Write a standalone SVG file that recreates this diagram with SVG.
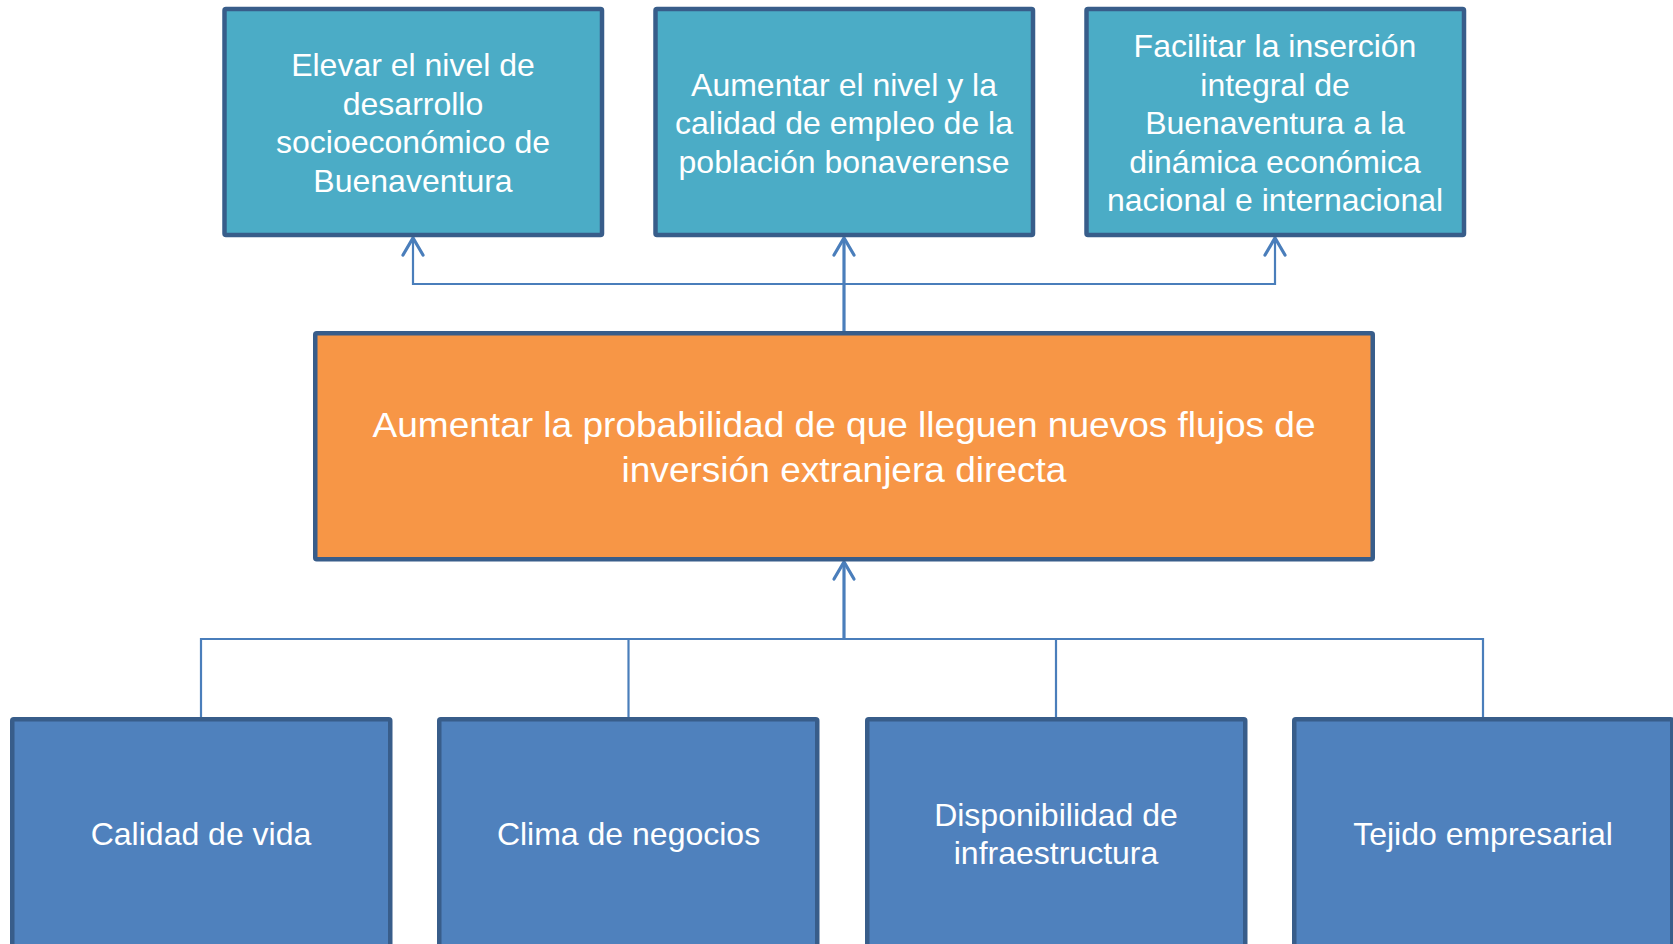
<svg xmlns="http://www.w3.org/2000/svg" width="1673" height="944" viewBox="0 0 1673 944">
<style>
.box{stroke:#385D8A;stroke-width:4.5}
.teal{fill:#4BACC6}
.orange{fill:#F79646}
.blue{fill:#4F81BD}
.t{font-family:"Liberation Sans",Arial,sans-serif;fill:#FFFFFF;text-anchor:middle;font-size:32px}
.tc{font-family:"Liberation Sans",Arial,sans-serif;fill:#FFFFFF;text-anchor:middle;font-size:35px}
.ln{stroke:#4A7EBB;fill:none;stroke-width:2.2}
.lnb{stroke:#4A7EBB;fill:none;stroke-width:3.2}
.ah{stroke:#4A7EBB;fill:none;stroke-width:3.2;stroke-linecap:round;stroke-linejoin:miter}
</style>
<rect width="1673" height="944" fill="#FFFFFF"/>
<g id="connectors">
  <polyline class="ln" points="413,237 413,284 1275,284 1275,237"/>
  <line class="lnb" x1="844" y1="331" x2="844" y2="238"/>
  <polyline class="ah" points="403,255 413,238 423,255"/>
  <polyline class="ah" points="834,255 844,238 854,255"/>
  <polyline class="ah" points="1265,255 1275,238 1285,255"/>
  <polyline class="ln" points="201,717 201,639 1483,639 1483,717"/>
  <line class="ln" x1="628.5" y1="639" x2="628.5" y2="717"/>
  <line class="ln" x1="1056" y1="639" x2="1056" y2="717"/>
  <line class="lnb" x1="844" y1="639" x2="844" y2="563"/>
  <polyline class="ah" points="834,579 844,562 854,579"/>
</g>
<g id="top1">
  <rect class="box teal" x="224.5" y="9" width="377.5" height="226" rx="1.5"/>
  <text class="t"><tspan x="413" y="76">Elevar el nivel de</tspan><tspan x="413" y="114.5">desarrollo</tspan><tspan x="413" y="153">socioeconómico de</tspan><tspan x="413" y="191.5">Buenaventura</tspan></text>
</g>
<g id="top2">
  <rect class="box teal" x="655.5" y="9" width="377.5" height="226" rx="1.5"/>
  <text class="t"><tspan x="844" y="95.5">Aumentar el nivel y la</tspan><tspan x="844" y="134">calidad de empleo de la</tspan><tspan x="844" y="172.5">población bonaverense</tspan></text>
</g>
<g id="top3">
  <rect class="box teal" x="1086.5" y="9" width="377.5" height="226" rx="1.5"/>
  <text class="t"><tspan x="1275" y="57">Facilitar la inserción</tspan><tspan x="1275" y="95.5">integral de</tspan><tspan x="1275" y="134">Buenaventura a la</tspan><tspan x="1275" y="172.5">dinámica económica</tspan><tspan x="1275" y="211">nacional e internacional</tspan></text>
</g>
<g id="center">
  <rect class="box orange" x="315.25" y="333.25" width="1057.5" height="226" rx="1.5"/>
  <text class="tc" x="844" y="437" textLength="943" lengthAdjust="spacingAndGlyphs">Aumentar la probabilidad de que lleguen nuevos flujos de</text>
  <text class="tc" x="844" y="482" textLength="445" lengthAdjust="spacingAndGlyphs">inversión extranjera directa</text>
</g>
<g id="bottom1">
  <rect class="box blue" x="12.25" y="719.25" width="378" height="230" rx="1.5"/>
  <text class="t" x="201" y="845">Calidad de vida</text>
</g>
<g id="bottom2">
  <rect class="box blue" x="439.25" y="719.25" width="378" height="230" rx="1.5"/>
  <text class="t" x="628.5" y="845">Clima de negocios</text>
</g>
<g id="bottom3">
  <rect class="box blue" x="867.25" y="719.25" width="378" height="230" rx="1.5"/>
  <text class="t"><tspan x="1056" y="826">Disponibilidad de</tspan><tspan x="1056" y="864">infraestructura</tspan></text>
</g>
<g id="bottom4">
  <rect class="box blue" x="1294.25" y="719.25" width="378" height="230" rx="1.5"/>
  <text class="t" x="1483" y="845">Tejido empresarial</text>
</g>
</svg>
